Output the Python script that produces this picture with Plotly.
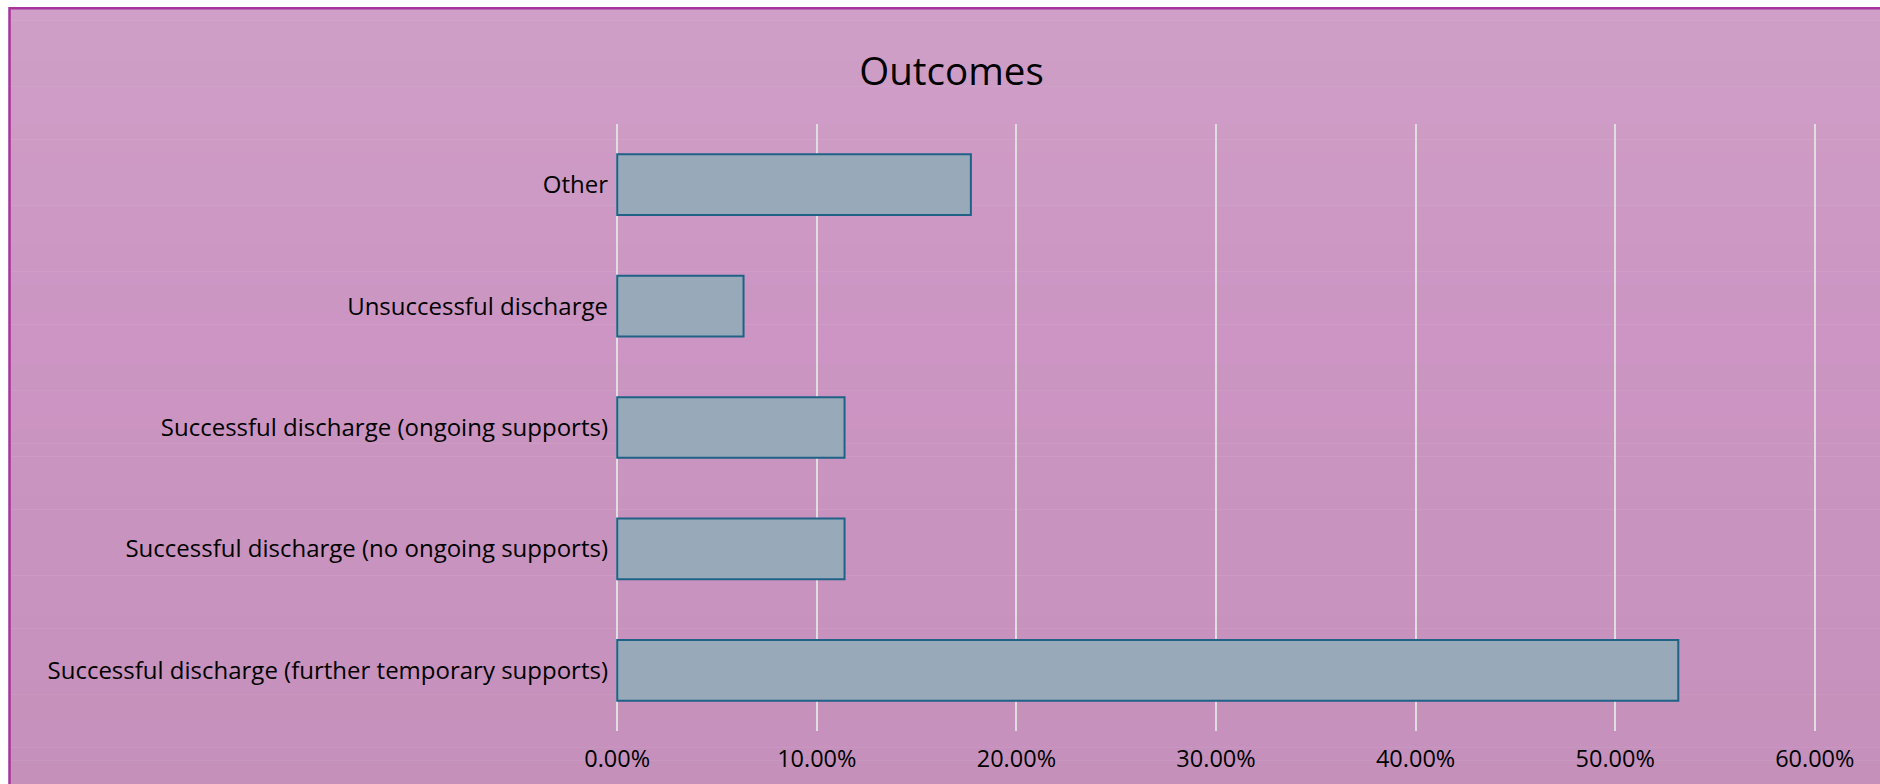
import plotly.graph_objects as go

categories = [
    "Successful discharge (further temporary supports)",
    "Successful discharge (no ongoing supports)",
    "Successful discharge (ongoing supports)",
    "Unsuccessful discharge",
    "Other",
]
values = [0.5316, 0.1139, 0.1139, 0.0633, 0.1772]
x_ticks = [0, 0.1, 0.2, 0.3, 0.4, 0.5, 0.6]

W, H = 1880, 784
FONT = "Open Sans"

def px_x(p):
    return p / W

def px_y(p):
    return 1 - p / H

def lerp(c1, c2, t):
    return tuple(round(a + (b - a) * t) for a, b in zip(c1, c2))

# background gradient (top -> mid -> bottom)
stops = [(7, (0xcf, 0x9f, 0xc7)), (330, (0xcc, 0x95, 0xc3)), (784, (0xc5, 0x91, 0xbb))]
shapes = []
N = 60
top, bot = 7, 800
for i in range(N):
    y0 = top + (bot - top) * i / N
    y1 = top + (bot - top) * (i + 1) / N
    ym = (y0 + y1) / 2
    if ym <= stops[1][0]:
        t = (ym - stops[0][0]) / (stops[1][0] - stops[0][0])
        c = lerp(stops[0][1], stops[1][1], t)
    else:
        t = min(1, (ym - stops[1][0]) / (stops[2][0] - stops[1][0]))
        c = lerp(stops[1][1], stops[2][1], t)
    shapes.append(dict(type="rect", xref="paper", yref="paper", layer="below",
                       x0=px_x(9), x1=1.05, y0=px_y(y1 + 0.5), y1=px_y(y0),
                       fillcolor="rgb(%d,%d,%d)" % c, line=dict(width=0)))
shapes.append(dict(type="rect", xref="paper", yref="paper", layer="below",
                   x0=px_x(9.5), x1=1.05, y0=-0.05, y1=px_y(8.2),
                   fillcolor="rgba(0,0,0,0)", line=dict(color="#a8339d", width=2.5)))

fig = go.Figure(go.Bar(
    y=categories, x=values, orientation="h", width=0.5,
    marker=dict(color="#98a9ba", line=dict(color="#1f6286", width=2)),
    hoverinfo="x+y",
))

fig.update_layout(
    width=W, height=H,
    margin=dict(l=0, r=0, t=0, b=0),
    paper_bgcolor="white",
    plot_bgcolor="rgba(0,0,0,0)",
    shapes=shapes,
    showlegend=False,
    font=dict(family=FONT, size=24, color="#000000"),
    title=dict(text="Outcomes", x=951.5 / W, xanchor="center", y=px_y(71.5), yanchor="middle",
               font=dict(family=FONT, size=38.5, color="#000000")),
    xaxis=dict(domain=[px_x(616), px_x(1816)], range=[-0.0006, 0.6006], tickvals=x_ticks,
               tickformat=".2%", showgrid=True, gridcolor="#dedede", gridwidth=1.5,
               zeroline=False, showline=False, ticks="", automargin=False,
               ticklabelstandoff=11,
               tickfont=dict(family=FONT, size=23.5, color="#000000")),
    yaxis=dict(domain=[1 - 731 / H, 1 - 124 / H], range=[-0.5, 4.5], type="category",
               categoryorder="array", categoryarray=categories,
               showgrid=False, zeroline=False, showline=False, ticks="", automargin=False,
               ticklabelstandoff=7,
               tickfont=dict(family=FONT, size=24, color="#000000")),
    bargap=0.5,
)

fig.write_html("out.html")
